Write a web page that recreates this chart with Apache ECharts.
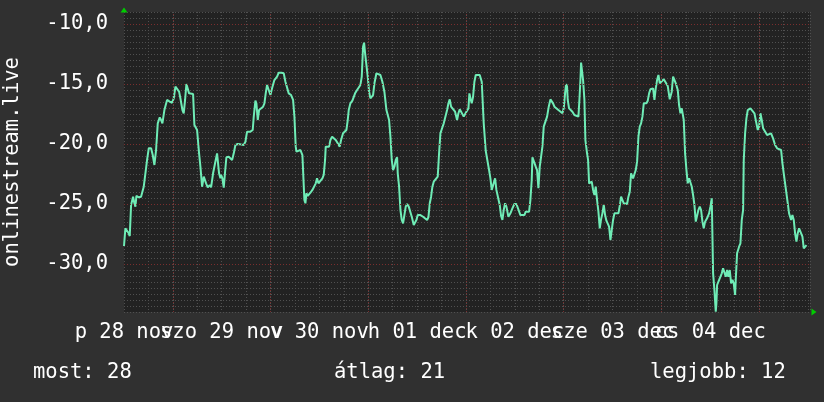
<!DOCTYPE html>
<html>
<head>
<meta charset="utf-8">
<script src="https://cdn.jsdelivr.net/npm/echarts@6/dist/echarts.min.js"></script>
<style>
html,body{margin:0;padding:0;background:#303030;}
#chart{width:824px;height:402px;}
</style>
</head>
<body>
<div id="chart"></div>
<script>
// hours since Fri 28 Nov 12:00
var hours = [0,0.34,0.75,1.16,1.41,1.74,2.23,2.55,2.80,3.05,3.62,4.19,4.44,4.85,5.26,5.67,6.08,6.65,7.06,7.47,7.88,8.29,8.78,9.11,9.43,9.92,10.58,11.23,11.81,12.22,12.63,13.03,13.53,13.85,14.35,14.67,15.00,15.33,15.74,15.98,16.31,16.97,17.29,17.95,18.44,18.77,19.18,19.59,19.83,20.16,20.57,21.06,21.39,21.88,22.37,22.86,23.11,23.35,23.68,23.84,24.17,24.50,24.83,25.15,25.73,26.14,26.55,26.96,27.36,27.94,28.59,29.41,29.82,30.23,31.05,31.62,31.87,32.28,32.52,32.85,33.18,33.50,34.16,34.49,34.81,35.14,35.63,35.96,36.37,36.94,37.60,38.01,38.66,39.24,39.65,40.05,40.46,41.04,
41.53,41.86,42.18,42.35,42.84,43.33,43.82,44.15,44.31,44.56,44.80,45.13,45.46,45.79,46.28,46.77,47.10,47.42,47.75,48.24,48.73,49.06,49.39,49.55,49.88,50.37,50.70,51.11,51.52,52.01,52.50,52.99,53.32,53.81,54.30,54.63,54.96,55.20,55.61,56.10,56.43,56.76,57.25,58.07,58.40,58.72,58.97,59.22,59.54,59.87,60.20,60.52,60.85,61.18,61.51,62.00,62.49,62.98,63.47,63.96,64.46,65.11,65.44,65.77,66.09,66.42,66.75,67.08,67.24,67.57,67.90,68.22,68.55,68.88,69.20,69.53,69.94,70.35,70.68,71.17,71.50,71.82,72.15,72.48,72.81,73.46,73.95,74.44,74.77,75.10,75.43,75.75,76.08,76.57,77.06,77.39,77.72,78.13,78.54,79.03,79.36,79.69,80.01,80.34,80.83,81.32,81.81,82.14,82.47,82.96,83.45,
83.61,84.10,84.60,84.84,85.09,85.41,85.74,86.07,86.40,86.89,87.38,87.87,88.20,88.36,88.85,89.34,89.67,90.00,90.33,90.82,91.15,91.47,91.96,92.29,92.62,92.95,93.27,93.60,93.93,94.42,94.91,95.40,95.89,96.39,96.88,97.37,97.86,98.35,98.68,99.01,99.50,99.82,100.15,100.32,100.64,101.13,101.46,101.79,102.12,102.45,102.77,103.10,103.59,103.92,104.33,104.74,105.07,105.39,105.72,106.21,106.70,107.19,107.69,108.01,108.34,108.59,108.83,108.99,109.32,109.65,110.14,110.63,111.12,111.62,111.86,112.11,112.27,112.60,112.76,113.09,113.33,113.74,113.99,114.24,114.56,114.89,115.22,115.55,115.87,116.20,116.53,116.86,117.18,117.51,117.84,118.17,118.49,118.82,119.15,119.48,119.80,120.13,120.46,120.95,121.44,121.77,122.10,122.42,122.75,123.24,123.57,123.90,124.23,124.55,
125.04,125.37,125.70,126.03,126.36,126.68,127.01,127.34,127.67,127.99,128.32,128.65,128.98,129.30,129.63,129.96,130.29,130.61,130.94,131.27,131.60,132.09,132.58,133.07,133.56,134.05,134.54,134.87,135.20,135.53,136.02,136.34,136.67,137.00,137.49,137.82,138.15,138.47,138.80,139.13,139.46,139.78,140.11,140.44,140.77,141.09,141.42,141.75,142.08,142.40,142.73,143.22,143.71,144.04,144.37,144.53,144.70,145.02,145.35,145.51,145.68,146.01,146.50,146.83,147.15,147.48,147.81,148.14,148.46,148.79,149.12,149.45,149.77,150.10,150.26,150.59,151.08,151.41,151.74,152.07,152.23,152.56,152.88,153.21,153.87,154.36,154.85,155.34,155.67,156.00,156.32,156.65,156.98,157.47,157.96,158.45,158.94,159.43,159.93,160.42,160.91,161.40,161.73,162.05,162.38,162.71,163.04,163.36,163.86,164.18,164.51,164.84,165.17,165.49,165.82,166.31,166.64,166.97,167.30,167.63];

var values = [-28.5,-27.03,-27.17,-27.44,-27.67,-25.08,-24.39,-24.94,-25.22,-24.33,-24.44,-24.39,-24.25,-23.56,-22.44,-21.33,-20.36,-20.36,-20.92,-21.75,-20.50,-18.28,-17.78,-18.00,-18.28,-17.17,-16.33,-16.47,-16.56,-16.19,-15.22,-15.17,-15.64,-16.19,-17.17,-17.44,-16.33,-15.00,-14.94,-15.78,-15.78,-15.83,-18.42,-18.83,-20.78,-21.89,-23.56,-22.72,-22.72,-23.28,-23.61,-23.42,-23.61,-22.44,-21.61,-20.78,-20.72,-22.44,-22.86,-22.58,-22.86,-23.64,-22.31,-21.11,-21.06,-21.06,-21.33,-20.78,-20.08,-20.00,-20.03,-20.08,-19.81,-18.97,-18.97,-18.83,-17.72,-16.39,-16.61,-18.00,-17.17,-17.03,-16.89,-16.61,-15.78,-15.08,-15.08,-15.92,-15.36,-14.67,-14.39,-14.06,-14.06,-14.11,-14.81,-14.81,-15.78,-15.92,
-16.33,-17.72,-20.22,-20.64,-20.78,-20.50,-20.92,-21.06,-24.67,-24.94,-24.11,-24.33,-24.25,-24.06,-23.83,-23.83,-23.28,-22.86,-23.28,-23.14,-22.86,-22.58,-21.33,-20.22,-20.08,-20.22,-19.67,-19.39,-19.39,-19.67,-19.94,-20.22,-19.67,-19.11,-18.97,-18.83,-18.00,-17.17,-16.61,-16.39,-16.39,-15.78,-15.50,-15.08,-14.39,-11.89,-11.56,-12.44,-12.58,-14.39,-15.64,-16.19,-16.33,-15.92,-14.94,-14.11,-14.06,-14.25,-14.81,-15.64,-17.17,-18.00,-19.39,-21.33,-22.17,-21.89,-21.33,-21.11,-22.44,-23.56,-25.50,-26.33,-26.61,-26.47,-25.22,-25.00,-25.22,-25.17,-26.06,-26.75,-26.75,-26.33,-25.92,-26.06,-25.92,-26.06,-26.06,-26.33,-26.11,-24.94,-24.39,-23.56,-23.14,-23.00,-22.72,-20.78,-19.11,-18.69,-18.28,-18.14,-17.17,-16.61,-16.28,-16.89,-17.03,-17.31,-18.00,-17.44,-17.11,-17.22,-17.72,
-17.58,-17.31,-17.03,-15.78,-16.19,-16.61,-16.06,-14.81,-14.25,-14.11,-14.25,-14.81,-14.94,-18.28,-20.56,-20.72,-22.17,-22.86,-23.83,-23.83,-22.86,-23.83,-23.97,-25.08,-26.00,-26.33,-25.50,-24.94,-25.22,-26.06,-25.78,-25.36,-25.00,-25.00,-25.08,-25.92,-26.06,-25.92,-25.64,-25.78,-25.64,-24.67,-23.00,-21.11,-21.19,-21.89,-22.17,-23.69,-21.89,-21.06,-20.22,-18.55,-18.42,-17.72,-16.89,-16.28,-16.19,-16.61,-16.89,-17.03,-17.17,-17.17,-17.44,-17.03,-15.78,-15.00,-15.22,-16.33,-17.03,-17.17,-17.31,-17.58,-17.72,-17.72,-16.33,-14.67,-13.22,-13.22,-14.67,-16.33,-19.67,-20.78,-21.33,-23.28,-23.28,-23.14,-23.83,-24.25,-23.56,-24.67,-25.64,-27.03,-26.28,-25.78,-25.08,-25.92,-26.39,-26.39,-26.89,-28.00,-27.17,-26.33,-25.78,-25.72,-25.78,-25.17,-24.39,-24.53,-24.94,-25.00,-25.00,-24.39,-23.97,-22.44,
-22.86,-22.72,-22.17,-21.47,-19.39,-18.56,-18.28,-17.72,-16.61,-16.47,-16.61,-16.39,-15.78,-15.44,-15.28,-15.36,-16.33,-15.36,-14.67,-14.25,-14.94,-15.08,-14.61,-14.53,-15.17,-16.28,-15.64,-14.39,-14.33,-14.94,-15.50,-16.75,-17.44,-17.03,-18.00,-20.78,-22.17,-23.28,-22.86,-23.00,-23.56,-24.25,-25.08,-26.47,-26.47,-25.50,-25.22,-25.50,-26.47,-27.03,-26.47,-26.19,-25.78,-25.22,-24.53,-24.67,-30.78,-32.17,-33.97,-33.28,-31.75,-31.47,-31.47,-30.78,-30.36,-30.22,-31.06,-30.50,-31.06,-30.50,-31.61,-31.33,-31.61,-32.58,-31.33,-29.11,-28.56,-28.28,-26.33,-25.50,-21.33,-19.11,-17.86,-17.17,-17.03,-17.03,-17.44,-18.28,-18.83,-18.56,-17.44,-18.00,-18.69,-18.83,-19.25,-19.39,-19.11,-19.53,-20.08,-20.36,-20.44,-20.50,-21.61,-22.44,-23.28,-24.11,-24.94,-25.78,-26.33,-25.92,-26.33,-27.44,-28.14,-27.44,-27.03,-27.03,-27.72,-28.69,-28.56,-28.42];

var dayLabels = ['p 28 nov','szo 29 nov','v 30 nov','h 01 dec','k 02 dec','sze 03 dec','cs 04 dec'];
var majorHours = [12,36,60,84,108,132,156];
var yMajorTicks = [-10,-15,-20,-25,-30];
var axisName = 'onlinestream.live';
var summaryLabels = ['most','átlag','legjobb'];
var summaryValues = [28,21,12];

var FONT = '"DejaVu Sans Mono", monospace';
var points = hours.map(function(h,i){return [h, values[i]];});

var chart = echarts.init(document.getElementById('chart'), null, {renderer:'canvas'});

var markData = majorHours.map(function(h){return {xAxis:h};})
  .concat(yMajorTicks.map(function(v){return {yAxis:v};}));

var summaryLeft = [33, 334, 650];
var titles = summaryLabels.map(function(l,i){
  return {text: l + ': ' + summaryValues[i], left: summaryLeft[i], top: 361, padding: 0,
    textStyle:{fontFamily:FONT, fontSize:20.5, fontWeight:'normal', color:'#ffffff', lineHeight:24}};
});

var gridLine = {show:true, lineStyle:{color:'#505050', type:[1,2], width:1}};
var labelStyle = {color:'#ffffff', fontFamily:FONT, fontSize:20.5};

chart.setOption({
  backgroundColor:'#303030',
  animation:false,
  title: titles,
  grid:{left:124, top:12, width:686, height:300, show:true, backgroundColor:'#222222', borderWidth:0,
        containLabel:false, outerBoundsMode:'none'},
  xAxis:{
    type:'value', min:0, max:168.5, interval:6,
    axisLine:{show:true, lineStyle:{color:'#00cc00', width:0}, symbol:['none','triangle'], symbolSize:[7,5], symbolOffset:[0,4]},
    axisTick:{show:false}, splitLine:gridLine,
    axisLabel:Object.assign({margin:10, showMinLabel:true, showMaxLabel:false, hideOverlap:false,
      formatter:function(v){
        var i = Math.round(v/24);
        return (Math.abs(v - i*24) < 1e-9 && dayLabels[i]) ? dayLabels[i] : '';
      }}, labelStyle)
  },
  yAxis:{
    type:'value', min:-34, max:-9, interval:0.5,
    name: axisName, nameLocation:'middle', nameGap:101,
    nameTextStyle:{color:'#ffffff', fontFamily:FONT, fontSize:20.5},
    axisLine:{show:true, lineStyle:{color:'#00cc00', width:0}, symbol:['none','triangle'], symbolSize:[7,5], symbolOffset:[0,2]},
    axisTick:{show:false}, splitLine:gridLine,
    axisLabel:Object.assign({margin:16, hideOverlap:false,
      formatter:function(v){
        var r = Math.round(v);
        return (Math.abs(v - r) < 1e-9 && r % 5 === 0) ? r.toFixed(1).replace('.', ',') : '';
      }}, labelStyle)
  },
  series:[
    {type:'line', data:[], z:1, silent:true,
     markLine:{silent:true, symbol:['none','none'], label:{show:false},
       lineStyle:{color:'#7a2e2e', type:[1,2], width:1}, data:markData, animation:false}},
    {type:'line', data:points, z:3, showSymbol:false, symbol:'none',
     lineStyle:{color:'#6fecb6', width:2}, itemStyle:{color:'#6fecb6'}}
  ]
});
</script>
</body>
</html>
